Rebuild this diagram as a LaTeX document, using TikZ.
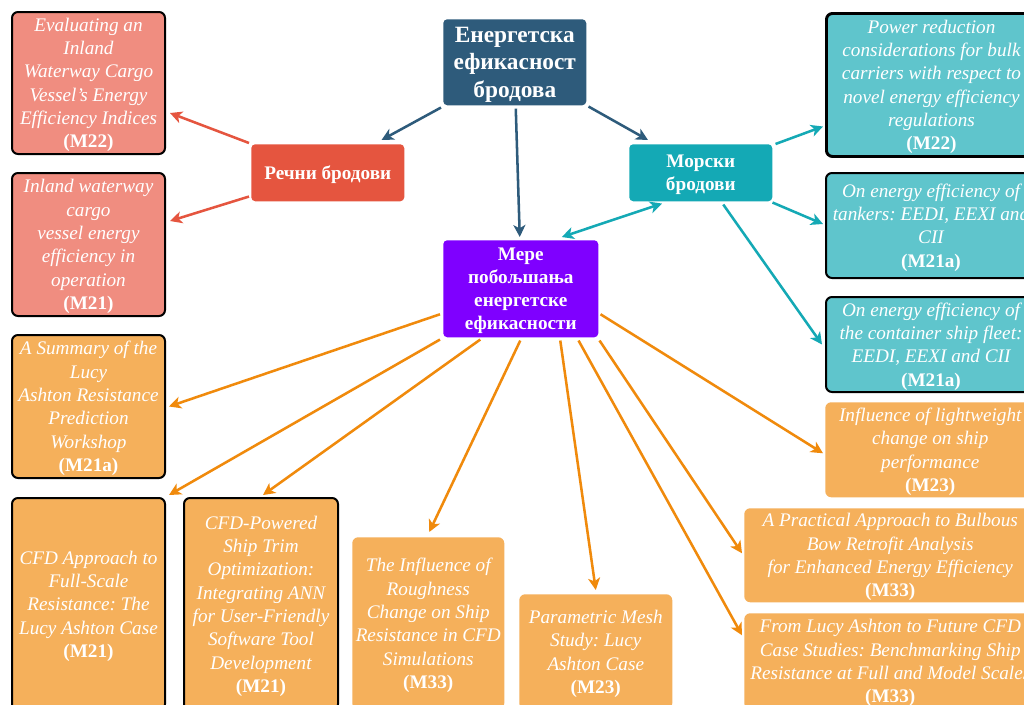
\documentclass[tikz,border=0pt]{standalone}
\usepackage{fontspec}
\setmainfont{Liberation Serif}
\usetikzlibrary{arrows.meta,calc}
\definecolor{titleblue}{HTML}{2E5B7B}
\definecolor{riverred}{HTML}{E5553F}
\definecolor{seateal}{HTML}{14A9B5}
\definecolor{violet}{HTML}{7F00FF}
\definecolor{salmon}{HTML}{F08D80}
\definecolor{lteal}{HTML}{5FC5CC}
\definecolor{lorange}{HTML}{F5B05B}
\definecolor{arrorange}{HTML}{F08A0C}
\frenchspacing
\tikzset{
  sz/.style 2 args={minimum width=#1*0.75pt, minimum height=#2*0.75pt},
  hub/.style={rectangle, rounded corners=3pt, text=white, inner sep=0pt, align=center,
    anchor=north west, text depth=-2pt, font=\bfseries\fontsize{14.4}{17.3}\selectfont},
  titlebox/.style={hub, fill=titleblue, font=\bfseries\fontsize{17.5}{20.6}\selectfont},
  item/.style={rectangle, rounded corners=4.5pt, text=white, inner sep=0pt, align=center,
    anchor=north west, text depth=-2pt, font=\itshape\fontsize{14.4}{17.5}\selectfont},
  framed/.style={draw=black, line width=1.5pt},
  conn/.style={line width=1.9pt, -{Stealth[length=9pt,width=9pt,inset=2.5pt]}},
  biconn/.style={line width=1.9pt, {Stealth[length=9pt,width=9pt,inset=2.5pt]}-{Stealth[length=9pt,width=9pt,inset=2.5pt]}},
}
\newcommand{\lbl}[1]{{\upshape\bfseries #1}}
\begin{document}
\begin{tikzpicture}[x=0.75pt,y=-0.75pt]
\useasboundingbox (0,0) rectangle (1024,704);
\clip (0,0) rectangle (1024,704);
\fill[white] (0,0) rectangle (1024,704);

% hubs
\node[titlebox, sz={143}{86}] (title) at (443,19) {Енергетска\\ефикасност\\бродова};
\node[hub, fill=riverred, sz={153}{57}] (rec) at (251,144) {Речни бродови};
\node[hub, fill=seateal, sz={143}{57}] (mor) at (629,144) {Морски\\бродови};
\node[hub, fill=violet, sz={155}{97}] (mere) at (443,240) {Мере\\побољшања\\енергетске\\ефикасности};

% river items
\node[item, framed, fill=salmon, sz={153}{142}] (e1) at (11,11) {Evaluating an\\Inland\\Waterway Cargo\\Vessel’s Energy\\Efficiency Indices\\\lbl{(M22)}};
\node[item, framed, fill=salmon, sz={153}{143}] (e2) at (11,172) {Inland waterway\\cargo\\vessel energy\\efficiency in\\operation\\\lbl{(M21)}};

% sea items
\node[item, draw=black, line width=2.2pt, fill=lteal, sz={210}{143}] (t1) at (825,12) {Power reduction\\considerations for bulk\\carriers with respect to\\novel energy efficiency\\regulations\\\lbl{(M22)}};
\node[item, framed, fill=lteal, sz={210}{105}] (t2) at (825,172) {On energy efficiency of\\tankers: EEDI, EEXI and\\CII\\\lbl{(M21a)}};
\node[item, framed, fill=lteal, sz={210}{95}] (t3) at (825,296) {On energy efficiency of\\the container ship fleet:\\EEDI, EEXI and CII\\\lbl{(M21a)}};

% measures items
\node[item, framed, fill=lorange, sz={153}{143}] (o1) at (11,334) {A Summary of the\\Lucy\\Ashton Resistance\\Prediction\\Workshop\\\lbl{(M21a)}};
\node[item, framed, fill=lorange, sz={153}{212}] (o2) at (11,497) {CFD Approach to\\Full-Scale\\Resistance: The\\Lucy Ashton Case\\\lbl{(M21)}};
\node[item, framed, fill=lorange, sz={154}{212}] (o3) at (183,497) {CFD-Powered\\Ship Trim\\Optimization:\\Integrating ANN\\for User-Friendly\\Software Tool\\Development\\\lbl{(M21)}};
\node[item, fill=lorange, sz={152}{172}] (o4) at (352,537) {The Influence of\\Roughness\\Change on Ship\\Resistance in CFD\\Simulations\\\lbl{(M33)}};
\node[item, fill=lorange, sz={153}{115}] (o5) at (519,594) {Parametric Mesh\\Study: Lucy\\Ashton Case\\\lbl{(M23)}};
\node[item, fill=lorange, sz={210}{95}] (o6) at (825,402) {Influence of lightweight\\change on ship\\performance\\\lbl{(M23)}};
\node[item, fill=lorange, sz={292}{94}] (o7) at (744,508) {A Practical Approach to Bulbous\\Bow Retrofit Analysis\\for Enhanced Energy Efficiency\\\lbl{(M33)}};
\node[item, fill=lorange, sz={292}{96}] (o8) at (744,613) {From Lucy Ashton to Future CFD\\Case Studies: Benchmarking Ship\\Resistance at Full and Model Scales\\\lbl{(M33)}};

% connectors from title
\draw[conn, titleblue] ($(title.south west)+(-2,2)$) -- ($(rec.north east)+(-23,-4)$);
\draw[conn, titleblue] ($(title.south)+(1,3)$) -- ($(mere.north)+(-1,-3)$);
\draw[conn, titleblue] ($(title.south east)+(2,1)$) -- ($(mor.north west)+(19,-4)$);
\draw[biconn, seateal] ($(mor.south west)+(33,2)$) -- ($(mere.north)+(41,-3)$);

% river connectors
\draw[conn, riverred] ($(rec.north west)+(-2,-1)$) -- ($(e1.east)+(4,30)$);
\draw[conn, riverred] ($(rec.south west)+(-2,-5)$) -- ($(e2.east)+(4,-23.5)$);

% sea connectors
\draw[conn, seateal] ($(mor.north east)+(3,0)$) -- ($(t1.west)+(-2,41.5)$);
\draw[conn, seateal] ($(mor.south east)+(0,1)$) -- ($(t2.west)+(-2,-1.5)$);
\draw[conn, seateal] ($(mor.south)+(22.5,3)$) -- ($(t3.west)+(-3,0)$);

% measures connectors
\draw[conn, arrorange] ($(mere.west)+(-3,25.5)$) -- ($(o1.east)+(3,0)$);
\draw[conn, arrorange] ($(mere.south west)+(-3,2)$) -- ($(o2.north east)+(3,-2)$);
\draw[conn, arrorange] ($(mere.south)+(-40.5,2)$) -- ($(o3.north)+(2,-2)$);
\draw[conn, arrorange] ($(mere.south)+(-0.5,3)$) -- ($(o4.north)+(1,-5)$);
\draw[conn, arrorange] ($(mere.south)+(39.5,3)$) -- ($(o5.north)+(0,-4)$);
\draw[conn, arrorange] ($(mere.east)+(2,25.5)$) -- ($(o6.west)+(-2,3.5)$);
\draw[conn, arrorange] ($(mere.south east)+(1,3)$) -- ($(o7.west)+(-2,-2)$);
\draw[conn, arrorange] ($(mere.south east)+(-20,3)$) -- ($(o8.west)+(-2,-26)$);
\end{tikzpicture}
\end{document}
